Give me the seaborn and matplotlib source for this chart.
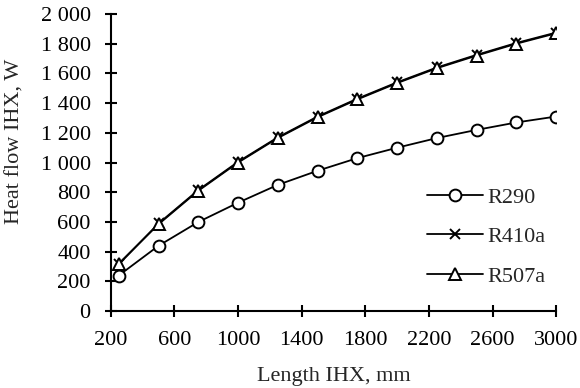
import pandas as pd
import seaborn as sns
import matplotlib.pyplot as plt
from matplotlib.ticker import FuncFormatter

# Length of IHX, mm
length_mm = [250, 500, 750, 1000, 1250, 1500, 1750, 2000, 2250, 2500, 2750, 3000]

# Heat flow of IHX, W
r290 = [240, 440, 600, 730, 850, 945, 1030, 1100, 1165, 1220, 1270, 1310]
r410a = [315, 590, 815, 1005, 1170, 1310, 1430, 1540, 1640, 1725, 1805, 1875]
r507a = [320, 585, 810, 1000, 1165, 1305, 1425, 1535, 1635, 1720, 1800, 1870]

series = {'R290': (r290, 'o'), 'R410a': (r410a, 'x'), 'R507a': (r507a, '^')}

sns.set_style('ticks')
plt.rcParams['font.family'] = ['Liberation Serif', 'DejaVu Serif']
fs = 16

fig = plt.figure(figsize=(5.8, 3.88), dpi=100)
ax = fig.add_axes([0.191, 0.198, 0.768, 0.766])

for name, (vals, mk) in series.items():
    df = pd.DataFrame({'Length': length_mm, 'Heat': vals})
    sns.lineplot(data=df, x='Length', y='Heat', ax=ax, color='black', linewidth=1.3,
                 marker=mk, markersize=8.5 if mk != 'x' else 7.5, markerfacecolor='white',
                 markeredgecolor='black', markeredgewidth=1.4, label=name)

ax.set_xlim(200, 3000)
ax.set_ylim(0, 2000)
ax.set_xticks(range(200, 3001, 400))
ax.set_yticks(range(0, 2001, 200))
ax.yaxis.set_major_formatter(FuncFormatter(lambda v, p: f'{int(v):,}'.replace(',', ' ')))
ax.tick_params(axis='both', direction='inout', length=9, width=1.5, labelsize=fs, colors='black')
ax.tick_params(axis='x', pad=10)
ax.tick_params(axis='y', pad=10)
for s in ['top', 'right']:
    ax.spines[s].set_visible(False)
for s in ['left', 'bottom']:
    ax.spines[s].set_linewidth(1.5)
    ax.spines[s].set_color('black')

ax.set_xlabel('Length IHX, mm', fontsize=fs, labelpad=12)
ax.set_ylabel('Heat flow IHX, W', fontsize=fs)
ax.yaxis.set_label_coords(-0.193, 0.572)

ax.legend(loc='lower right', bbox_to_anchor=(1.02, 0.015), frameon=False, fontsize=fs,
          handlelength=2.5, handletextpad=0.2, labelspacing=0.85)

fig.savefig('out.png', dpi=100)
